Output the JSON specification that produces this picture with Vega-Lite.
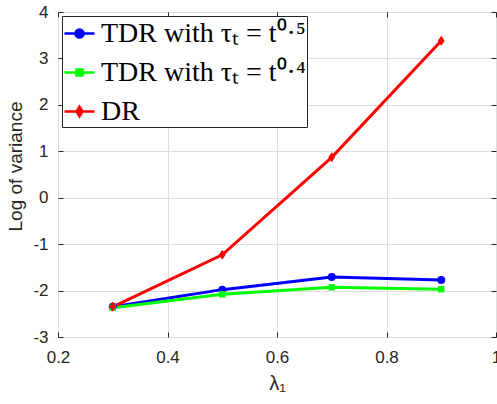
{
  "$schema": "https://vega.github.io/schema/vega-lite/v6.json",
  "width": 438,
  "height": 325,
  "autosize": {"type": "none"},
  "padding": {"left": 58, "top": 12, "right": 1, "bottom": 67},
  "background": "white",
  "config": {
    "view": {"stroke": "#262626", "strokeWidth": 1},
    "axis": {
      "labelFont": "Liberation Sans",
      "labelFontSize": 17,
      "labelColor": "#262626",
      "labelFlush": false,
      "titleFont": "Liberation Sans",
      "titleFontWeight": "normal",
      "titleColor": "#262626",
      "tickColor": "#262626",
      "tickSize": -5,
      "domain": false,
      "gridColor": "#dedede",
      "gridWidth": 1
    }
  },
  "data": {
    "values": [
      {"series": "TDR with τₜ = t⁰·⁵", "lambda": 0.3, "logvar": -2.35},
      {"series": "TDR with τₜ = t⁰·⁵", "lambda": 0.5, "logvar": -1.98},
      {"series": "TDR with τₜ = t⁰·⁵", "lambda": 0.7, "logvar": -1.71},
      {"series": "TDR with τₜ = t⁰·⁵", "lambda": 0.9, "logvar": -1.77},
      {"series": "TDR with τₜ = t⁰·⁴", "lambda": 0.3, "logvar": -2.37},
      {"series": "TDR with τₜ = t⁰·⁴", "lambda": 0.5, "logvar": -2.08},
      {"series": "TDR with τₜ = t⁰·⁴", "lambda": 0.7, "logvar": -1.93},
      {"series": "TDR with τₜ = t⁰·⁴", "lambda": 0.9, "logvar": -1.97},
      {"series": "DR", "lambda": 0.3, "logvar": -2.35},
      {"series": "DR", "lambda": 0.5, "logvar": -1.23},
      {"series": "DR", "lambda": 0.7, "logvar": 0.87},
      {"series": "DR", "lambda": 0.9, "logvar": 3.38}
    ]
  },
  "layer": [
    {
      "mark": {"type": "line", "strokeWidth": 3},
      "encoding": {
        "x": {
          "field": "lambda", "type": "quantitative",
          "scale": {"domain": [0.2, 1], "nice": false, "zero": false},
          "axis": {
            "orient": "bottom", "values": [0.2, 0.4, 0.6, 0.8, 1], "grid": true,
            "labelExpr": "'' + datum.value", "labelPadding": 17,
            "title": "λ₁", "titleFontSize": 20, "titlePadding": 8
          }
        },
        "y": {
          "field": "logvar", "type": "quantitative",
          "scale": {"domain": [-3, 4], "nice": false, "zero": false},
          "axis": {
            "orient": "left", "values": [-3, -2, -1, 0, 1, 2, 3, 4], "grid": true,
            "labelExpr": "'' + datum.value", "labelPadding": 15,
            "title": "Log of variance", "titleFontSize": 19, "titlePadding": 7, "titleY": 154
          }
        },
        "color": {
          "field": "series", "type": "nominal",
          "scale": {
            "domain": ["TDR with τₜ = t⁰·⁵", "TDR with τₜ = t⁰·⁴", "DR"],
            "range": ["#0000ff", "#00ff00", "#ff0000"]
          },
          "legend": {
            "title": null,
            "orient": "top-left",
            "offset": 4,
            "padding": 1,
            "rowPadding": 8,
            "strokeColor": "#262626",
            "fillColor": "white",
            "labelFont": "Liberation Serif",
            "labelFontSize": 28,
            "labelColor": "#000000",
            "labelLimit": 0,
            "labelOffset": 5,
            "symbolSize": 900,
            "symbolStrokeWidth": 2.5,
            "encode": {
              "symbols": {
                "update": {
                  "shape": {"signal": "datum.index === 0 ? 'M-1,0H1M0.27,0A0.27,0.27,0,1,1,-0.27,0A0.27,0.27,0,1,1,0.27,0Z' : (datum.index === 1 ? 'M-1,0H1M-0.2,-0.2H0.2V0.2H-0.2Z' : 'M-1,0H1M0,-0.32L0.2,0L0,0.32L-0.2,0Z')"},
                  "fill": {"signal": "scale('color', datum.value)"},
                  "stroke": {"signal": "scale('color', datum.value)"},
                  "strokeWidth": {"value": 2.5},
                  "opacity": {"value": 1}
                }
              }
            }
          }
        }
      }
    },
    {
      "transform": [{"filter": "datum.series === 'TDR with τₜ = t⁰·⁵'"}],
      "mark": {"type": "point", "filled": true, "shape": "circle", "size": 64, "color": "#0000ff", "opacity": 1},
      "encoding": {
        "x": {
          "field": "lambda", "type": "quantitative",
          "axis": {"orient": "top", "values": [0.2, 0.4, 0.6, 0.8, 1], "grid": false, "labels": false, "title": null}
        },
        "y": {
          "field": "logvar", "type": "quantitative",
          "axis": {"orient": "right", "values": [-3, -2, -1, 0, 1, 2, 3, 4], "grid": false, "labels": false, "title": null}
        }
      }
    },
    {
      "transform": [{"filter": "datum.series === 'TDR with τₜ = t⁰·⁴'"}],
      "mark": {"type": "point", "filled": true, "shape": "M-0.8,-0.8H0.8V0.8H-0.8Z", "size": 64, "color": "#00ff00", "opacity": 1},
      "encoding": {
        "x": {"field": "lambda", "type": "quantitative", "axis": null},
        "y": {"field": "logvar", "type": "quantitative", "axis": null}
      }
    },
    {
      "transform": [{"filter": "datum.series === 'DR'"}],
      "mark": {"type": "point", "filled": true, "shape": "M0,-1.25L0.85,0L0,1.25L-0.85,0Z", "size": 64, "color": "#ff0000", "opacity": 1},
      "encoding": {
        "x": {"field": "lambda", "type": "quantitative", "axis": null},
        "y": {"field": "logvar", "type": "quantitative", "axis": null}
      }
    }
  ],
  "resolve": {"axis": {"x": "independent", "y": "independent"}}
}
